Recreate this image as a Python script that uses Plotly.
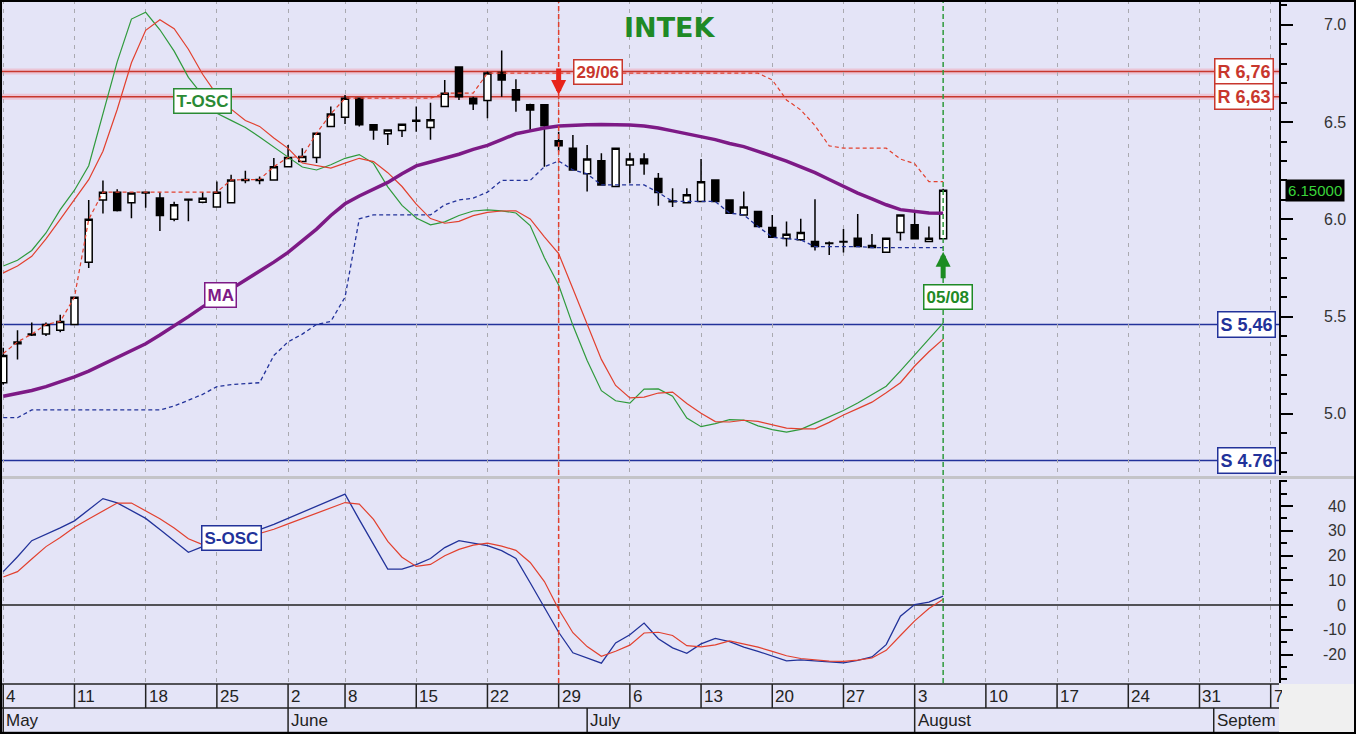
# -*- coding: utf-8 -*-
import pandas as pd
import plotly.graph_objects as go

# --- 1. chart data ---
# trading days 4 May - 5 Aug 2009, 1 June was a holiday
DAYS = [d.strftime("%Y-%m-%d") for d in pd.bdate_range("2009-05-04", "2009-08-05")
        if d.strftime("%Y-%m-%d") != "2009-06-01"]

OPEN = [5.16, 5.36, 5.405, 5.41, 5.43, 5.46, 5.78, 6.10, 6.14, 6.086,
        6.135, 6.11, 6.00, 6.10, 6.088, 6.063, 6.086, 6.20, 6.205, 6.203,
        6.271, 6.297, 6.318, 6.477, 6.525, 6.623, 6.486, 6.44, 6.457, 6.505,
        6.472, 6.58, 6.783, 6.623, 6.611, 6.755, 6.666, 6.589, 6.589, 6.404,
        6.366, 6.234, 6.302, 6.169, 6.28, 6.31, 6.21, 6.09, 6.086, 6.092,
        6.203, 6.10, 6.023, 6.04, 5.958, 5.901, 5.895, 5.886, 5.878, 5.884,
        5.903, 5.865, 5.831, 5.932, 5.972, 5.886, 5.90]
HIGH = [5.34, 5.43, 5.47, 5.47, 5.51, 5.60, 6.10, 6.20, 6.155, 6.14,
        6.14, 6.14, 6.09, 6.105, 6.14, 6.195, 6.23, 6.25, 6.22, 6.315,
        6.383, 6.366, 6.445, 6.58, 6.64, 6.625, 6.487, 6.46, 6.49, 6.58,
        6.60, 6.717, 6.785, 6.63, 6.76, 6.868, 6.72, 6.595, 6.59, 6.45,
        6.434, 6.383, 6.34, 6.366, 6.343, 6.34, 6.238, 6.16, 6.16, 6.31,
        6.205, 6.10, 6.143, 6.04, 6.023, 5.989, 6.003, 6.104, 5.886, 5.95,
        6.027, 5.925, 5.905, 6.025, 6.04, 5.963, 6.157]
LOW = [5.15, 5.28, 5.40, 5.40, 5.42, 5.455, 5.75, 6.03, 6.04, 6.006,
       6.06, 5.94, 5.99, 5.99, 6.083, 6.063, 6.083, 6.186, 6.18, 6.20,
       6.27, 6.295, 6.29, 6.475, 6.49, 6.477, 6.41, 6.383, 6.423, 6.45,
       6.41, 6.578, 6.614, 6.563, 6.52, 6.631, 6.554, 6.46, 6.271, 6.35,
       6.25, 6.143, 6.175, 6.168, 6.186, 6.229, 6.07, 6.063, 6.083, 6.09,
       6.09, 6.03, 6.02, 5.96, 5.905, 5.86, 5.89, 5.84, 5.817, 5.83,
       5.858, 5.855, 5.83, 5.891, 5.898, 5.885, 5.90]
CLOSE = [5.30, 5.37, 5.41, 5.46, 5.475, 5.60, 6.00, 6.14, 6.045, 6.135,
         6.14, 6.02, 6.075, 6.104, 6.109, 6.14, 6.203, 6.205, 6.20, 6.271,
         6.318, 6.323, 6.443, 6.542, 6.623, 6.486, 6.46, 6.46, 6.489, 6.51,
         6.512, 6.649, 6.631, 6.594, 6.752, 6.717, 6.614, 6.563, 6.482, 6.378,
         6.254, 6.31, 6.177, 6.366, 6.31, 6.286, 6.138, 6.095, 6.126, 6.194,
         6.092, 6.032, 6.063, 5.963, 5.908, 5.924, 5.932, 5.86, 5.876, 5.886,
         5.86, 5.855, 5.903, 6.023, 5.90, 5.903, 6.15]

MA = [5.09, 5.105, 5.12, 5.14, 5.165, 5.19, 5.22, 5.255, 5.29, 5.325,
      5.36, 5.405, 5.45, 5.50, 5.55, 5.595, 5.64, 5.69, 5.735, 5.78,
      5.83, 5.89, 5.95, 6.02, 6.08, 6.12, 6.155, 6.19, 6.235, 6.275,
      6.295, 6.315, 6.335, 6.36, 6.38, 6.41, 6.44, 6.455, 6.47, 6.48,
      6.485, 6.487, 6.488, 6.487, 6.485, 6.48, 6.47, 6.455, 6.44, 6.426,
      6.41, 6.39, 6.374, 6.35, 6.326, 6.30, 6.27, 6.24, 6.205, 6.17,
      6.135, 6.105, 6.075, 6.05, 6.04, 6.033, 6.032]

# channel lines (red dashed above, blue dashed below)
UPPER_BAND = [5.31, 5.37, 5.41, 5.46, 5.475, 5.60, 6.00, 6.14, 6.14, 6.14,
              6.14, 6.14, 6.14, 6.14, 6.14, 6.14, 6.203, 6.205, 6.205, 6.271,
              6.318, 6.323, 6.443, 6.542, 6.623, 6.623, 6.623, 6.623, 6.623, 6.623,
              6.623, 6.649, 6.649, 6.649, 6.752, 6.752, 6.752, 6.752, 6.752, 6.752,
              6.752, 6.752, 6.752, 6.752, 6.752, 6.752, 6.752, 6.752, 6.752, 6.752,
              6.752, 6.752, 6.752, 6.752, 6.717, 6.614, 6.563, 6.482, 6.378, 6.366,
              6.366, 6.366, 6.366, 6.31, 6.286, 6.194, 6.194]
LOWER_BAND = [4.98, 4.98, 5.02, 5.02, 5.02, 5.02, 5.02, 5.02, 5.02, 5.02,
              5.02, 5.02, 5.04, 5.07, 5.10, 5.14, 5.15, 5.155, 5.16, 5.30,
              5.37, 5.41, 5.46, 5.475, 5.60, 6.003, 6.023, 6.023, 6.023, 6.023,
              6.023, 6.075, 6.10, 6.109, 6.14, 6.20, 6.20, 6.20, 6.271, 6.30,
              6.254, 6.234, 6.177, 6.177, 6.177, 6.177, 6.138, 6.092, 6.092, 6.092,
              6.092, 6.032, 6.023, 5.963, 5.908, 5.901, 5.895, 5.86, 5.86, 5.86,
              5.86, 5.855, 5.855, 5.855, 5.855, 5.855, 5.855]

# T-OSC, drawn on the price scale
TOSC_FAST = [5.76, 5.79, 5.84, 5.93, 6.05, 6.15, 6.276, 6.54, 6.81, 7.03,
             7.065, 6.975, 6.865, 6.73, 6.636, 6.545, 6.509, 6.472, 6.424, 6.37,
             6.32, 6.269, 6.254, 6.281, 6.314, 6.333, 6.288, 6.167, 6.072, 6.007,
             5.972, 5.987, 6.02, 6.043, 6.049, 6.044, 6.033, 5.968, 5.803, 5.662,
             5.455, 5.274, 5.119, 5.067, 5.055, 5.127, 5.128, 5.091, 4.978, 4.934,
             4.95, 4.97, 4.968, 4.938, 4.919, 4.906, 4.92, 4.952, 4.986, 5.017,
             5.056, 5.099, 5.142, 5.221, 5.303, 5.385, 5.466]
TOSC_SLOW = [5.725, 5.76, 5.81, 5.90, 6.00, 6.10, 6.204, 6.35, 6.565, 6.805,
             6.972, 7.026, 6.98, 6.875, 6.746, 6.64, 6.567, 6.508, 6.478, 6.418,
             6.365, 6.29, 6.278, 6.264, 6.289, 6.314, 6.297, 6.24, 6.169, 6.078,
             6.004, 5.98, 5.99, 6.019, 6.036, 6.043, 6.044, 6.002, 5.91, 5.824,
             5.643, 5.46, 5.28, 5.146, 5.082, 5.086, 5.107, 5.112, 5.053, 5.003,
             4.96, 4.958, 4.967, 4.961, 4.944, 4.927, 4.923, 4.923, 4.956, 4.994,
             5.027, 5.06, 5.108, 5.16, 5.246, 5.319, 5.384]

# S-OSC, lower panel
SOSC_FAST = [13.5, 19.5, 26, 28.5, 31.2, 34, 38.5, 43, 41.3, 38,
             35, 30.5, 26, 21.3, 23.6, 25.3, 27.1, 28.8, 30.5, 32.6,
             35, 37.5, 40, 42.4, 44.8, 34.5, 24.5, 14.5, 14.5, 16.3,
             18.8, 23.2, 26, 25.1, 24, 22, 18.8, 9.0, -1.3, -11,
             -19.3, -21.4, -23.5, -15.3, -12, -7.3, -13.6, -17.3, -19.5, -15.7,
             -13.5, -14.8, -17, -18.7, -20.5, -22.6, -22.2, -22.6, -23, -23.4,
             -22.4, -21, -16, -4.5, 0.2, 1.2, 3.6]
SOSC_SLOW = [11.3, 13.5, 18.6, 23.6, 27.3, 31.4, 34.8, 38.0, 41.2, 41.2,
             38.1, 34.9, 31.1, 26.8, 24.4, 23.8, 25.5, 27.3, 29.1, 30.6,
             32.8, 34.9, 37.0, 39.2, 41.4, 40.8, 34.6, 25.7, 19.3, 15.6,
             16.4, 19.9, 22.5, 24.2, 25.0, 23.8, 22.1, 17.2, 9.5, -1.7,
             -11.2, -16.8, -20.7, -18.7, -16.2, -11.3, -11.0, -12.3, -16.4, -16.9,
             -16.1, -14.5, -15.8, -17.0, -18.7, -20.5, -21.6, -22.3, -22.7, -22.8,
             -22.3, -21.4, -18.3, -12.3, -6.4, -1.4, 2.3]

TITLE = "INTEK"
RESISTANCE = [6.76, 6.63]
RESISTANCE_TEXT = ["R 6,76", "R 6,63"]
SUPPORT = [5.46, 4.76]
SUPPORT_TEXT = ["S 5,46", "S 4.76"]
SELL_DAY, SELL_TEXT, SELL_PRICE = "2009-06-29", "29/06", 6.64
BUY_DAY, BUY_TEXT, BUY_PRICE = "2009-08-05", "05/08", 5.833

WEEK_DAYS = ["2009-05-04", "2009-05-11", "2009-05-18", "2009-05-25", "2009-06-02",
             "2009-06-08", "2009-06-15", "2009-06-22", "2009-06-29", "2009-07-06",
             "2009-07-13", "2009-07-20", "2009-07-27", "2009-08-03", "2009-08-10",
             "2009-08-17", "2009-08-24", "2009-08-31", "2009-09-07"]
WEEK_TEXT = ["4", "11", "18", "25", "2", "8", "15", "22", "29", "6",
             "13", "20", "27", "3", "10", "17", "24", "31", "7"]
MONTH_DAYS = ["2009-05-04", "2009-06-02", "2009-07-01", "2009-08-03", "2009-09-01"]
MONTH_TEXT = ["May", "June", "July", "August", "September"]
PRICE_TICKS = [5.0, 5.5, 6.0, 6.5, 7.0]
OSC_TICKS = [-20, -10, 0, 10, 20, 30, 40]

# -------------------------
FONT = "Arial"
BG = "#E4E4F7"
GREEN = "#2f9a3c"
RED = "#e2402e"
LEVEL_RED = "#c8372d"
NAVY = "#22329a"
PURPLE = "#7d1a86"

X_RANGE = ["2009-05-01 18:30", "2009-09-07 14:00"]
TOP_DOMAIN = [0.353, 1.0]
LOW_DOMAIN = [0.0695, 0.346]
STRIP_TOP, STRIP_MID, STRIP_BOT = 0.0681, 0.0354, 0.002
RIGHT_EDGE = 1356 / 1279  # paper x of the figure's right edge


def box_label(text, x, y, color, xref="x", yref="y", xanchor="center", xshift=0, size=17):
    return dict(text="<b>%s</b>" % text, x=x, y=y, xref=xref, yref=yref, xanchor=xanchor,
                xshift=xshift, showarrow=False, bgcolor="white", bordercolor=color,
                borderwidth=1.5, borderpad=2,
                font=dict(family=FONT, size=size, color=color))


def main():
    print("points:", len(DAYS), len(OPEN), len(MA), len(TOSC_FAST), len(SOSC_FAST))

    fig = go.Figure()

    # top panel: T-OSC, MA, candles, channel
    fig.add_trace(go.Scatter(x=DAYS, y=TOSC_FAST, mode="lines",
                             line=dict(color=GREEN, width=1.2)))
    fig.add_trace(go.Scatter(x=DAYS, y=TOSC_SLOW, mode="lines",
                             line=dict(color=RED, width=1.2)))
    fig.add_trace(go.Scatter(x=DAYS, y=MA, mode="lines",
                             line=dict(color=PURPLE, width=3.5)))
    fig.add_trace(go.Candlestick(
        x=DAYS, open=OPEN, high=HIGH, low=LOW, close=CLOSE, whiskerwidth=0,
        increasing=dict(fillcolor="white", line=dict(color="black", width=1.5)),
        decreasing=dict(fillcolor="black", line=dict(color="black", width=1.5))))
    fig.add_trace(go.Scatter(x=DAYS, y=UPPER_BAND, mode="lines",
                             line=dict(color=RED, width=1.2, dash="4px,3px")))
    fig.add_trace(go.Scatter(x=DAYS, y=LOWER_BAND, mode="lines",
                             line=dict(color=NAVY, width=1.3, dash="4px,3px")))

    # lower panel: S-OSC
    fig.add_trace(go.Scatter(x=DAYS, y=SOSC_FAST, mode="lines", xaxis="x2", yaxis="y2",
                             line=dict(color=NAVY, width=1.3)))
    fig.add_trace(go.Scatter(x=DAYS, y=SOSC_SLOW, mode="lines", xaxis="x2", yaxis="y2",
                             line=dict(color=RED, width=1.2)))

    shapes = []
    annotations = []

    # resistance / support levels
    for level, text in zip(RESISTANCE, RESISTANCE_TEXT):
        shapes.append(dict(type="line", xref="paper", yref="y", x0=0, x1=1, y0=level, y1=level,
                           layer="below", line=dict(color="rgba(255,120,130,0.28)", width=6)))
        shapes.append(dict(type="line", xref="paper", yref="y", x0=0, x1=1, y0=level, y1=level,
                           layer="below", line=dict(color=LEVEL_RED, width=1.5)))
        annotations.append(box_label(text, 1, level, LEVEL_RED, xref="paper",
                                     xanchor="right", xshift=-5, size=18))
    for level, text in zip(SUPPORT, SUPPORT_TEXT):
        shapes.append(dict(type="line", xref="paper", yref="y", x0=0, x1=1, y0=level, y1=level,
                           layer="below", line=dict(color=NAVY, width=1.5)))
        annotations.append(box_label(text, 1, level, NAVY, xref="paper",
                                     xanchor="right", xshift=-3, size=18))

    # zero line of the oscillator
    shapes.append(dict(type="line", xref="paper", yref="y2", x0=0, x1=1, y0=0, y1=0,
                       layer="below", line=dict(color="#202020", width=1.5)))

    # signal days
    shapes.append(dict(type="line", xref="x", yref="paper", x0=SELL_DAY, x1=SELL_DAY,
                       y0=LOW_DOMAIN[0], y1=1, line=dict(color=RED, width=1.5, dash="5px,3px")))
    shapes.append(dict(type="line", xref="x", yref="paper", x0=BUY_DAY, x1=BUY_DAY,
                       y0=LOW_DOMAIN[0], y1=1, line=dict(color=GREEN, width=1.5, dash="5px,3px")))
    annotations.append(dict(x=SELL_DAY, y=SELL_PRICE, xref="x", yref="y", text="",
                            showarrow=True, ax=0, ay=-28, arrowhead=2, arrowsize=0.6,
                            arrowwidth=5, arrowcolor="#e8231a"))
    annotations.append(dict(x=BUY_DAY, y=BUY_PRICE, xref="x", yref="y", text="",
                            showarrow=True, ax=0, ay=28, arrowhead=2, arrowsize=0.6,
                            arrowwidth=5, arrowcolor="#1c8c22"))
    annotations.append(box_label(SELL_TEXT, SELL_DAY, RESISTANCE[0], LEVEL_RED,
                                 xanchor="left", xshift=14))
    annotations.append(box_label(BUY_TEXT, BUY_DAY, 5.60, "#1f8a26", xshift=5))

    # series name tags
    annotations.append(box_label("T-OSC", "2009-05-22", 6.61, "#2a8a34"))
    annotations.append(box_label("MA", "2009-05-25", 5.61, PURPLE, xshift=4))
    annotations.append(box_label("S-OSC", "2009-05-26", 27, NAVY, xref="x2", yref="y2"))

    # title
    annotations.append(dict(text="<b>%s</b>" % TITLE, xref="paper", yref="paper", x=0.524,
                            y=1 - 27 / 734, yanchor="middle", showarrow=False,
                            font=dict(family="DejaVu Sans", size=27, color="#1f8a26")))

    # right axis labels, right aligned
    for v in PRICE_TICKS:
        annotations.append(dict(text="%.1f" % v, xref="paper", yref="y", x=1348 / 1279, y=v,
                                xanchor="right", yanchor="middle", showarrow=False,
                                font=dict(family=FONT, size=16, color="#333333")))
    for v in OSC_TICKS:
        annotations.append(dict(text=str(v), xref="paper", yref="y2", x=1348 / 1279, y=v,
                                xanchor="right", yanchor="middle", showarrow=False,
                                font=dict(family=FONT, size=16, color="#333333")))
    annotations.append(dict(text="%.5f" % CLOSE[-1], xref="paper", yref="y", x=1285 / 1279,
                            y=CLOSE[-1], xanchor="left", yanchor="middle", showarrow=False,
                            bgcolor="black", borderpad=2,
                            font=dict(family=FONT, size=15, color="#3ad43a")))

    # date strip: day row and month row
    for y in (STRIP_TOP, STRIP_MID, STRIP_BOT):
        shapes.append(dict(type="line", xref="paper", yref="paper", x0=0, x1=1, y0=y, y1=y,
                           line=dict(color="#222222", width=1.5)))
    for d, text in zip(WEEK_DAYS, WEEK_TEXT):
        shapes.append(dict(type="line", xref="x2", yref="paper", x0=d, x1=d,
                           y0=STRIP_MID, y1=STRIP_TOP, line=dict(color="#222222", width=1.5)))
        ann = dict(text=text, x=d, y=(STRIP_TOP + STRIP_MID) / 2, xref="x2", yref="paper",
                   xanchor="left", yanchor="middle", xshift=1, showarrow=False, align="left",
                   font=dict(family=FONT, size=17, color="#222222"))
        if d == WEEK_DAYS[-1]:
            ann["width"] = 8
        annotations.append(ann)
    for d, text in zip(MONTH_DAYS, MONTH_TEXT):
        shapes.append(dict(type="line", xref="x2", yref="paper", x0=d, x1=d,
                           y0=STRIP_BOT, y1=STRIP_MID, line=dict(color="#222222", width=1.5)))
        ann = dict(text=text, x=d, y=(STRIP_MID + STRIP_BOT) / 2, xref="x2", yref="paper",
                   xanchor="left", yanchor="middle", xshift=1, showarrow=False, align="left",
                   font=dict(family=FONT, size=17, color="#222222"))
        if d == MONTH_DAYS[-1]:
            ann["width"] = 58
        annotations.append(ann)

    # panel separator, grey corner, outer frame
    shapes.append(dict(type="line", xref="paper", yref="paper", x0=0, x1=RIGHT_EDGE,
                       y0=1 - 477.5 / 734, y1=1 - 477.5 / 734, line=dict(color="#c4c4c8", width=3)))
    shapes.append(dict(type="rect", xref="paper", yref="paper", x0=1, x1=RIGHT_EDGE,
                       y0=0, y1=STRIP_TOP, fillcolor="#f0f0f0", line=dict(width=0)))
    shapes.append(dict(type="rect", xref="paper", yref="paper", x0=0.0008, x1=1355 / 1279,
                       y0=1 / 734, y1=1 - 1 / 734, line=dict(color="black", width=2)))

    xaxis_common = dict(
        type="date", range=X_RANGE,
        rangebreaks=[dict(bounds=["sat", "mon"]), dict(values=["2009-06-01"])],
        tickmode="array", tickvals=WEEK_DAYS, showticklabels=False, ticks="",
        showgrid=True, gridcolor="#a9a9b0", gridwidth=1, griddash="4px,5px",
        zeroline=False, showline=False, fixedrange=True)

    yaxis_common = dict(
        side="right", showgrid=False, zeroline=False, showline=True,
        linecolor="black", linewidth=1.5, tickmode="array", ticks="outside",
        ticklen=12, tickwidth=1.5, tickcolor="black", showticklabels=False, fixedrange=True)

    fig.update_layout(
        width=1356, height=734, autosize=False,
        margin=dict(l=0, r=77, t=0, b=0),
        paper_bgcolor=BG, plot_bgcolor=BG,
        showlegend=False,
        xaxis=dict(xaxis_common, domain=[0, 1], anchor="y", rangeslider=dict(visible=False)),
        xaxis2=dict(xaxis_common, domain=[0, 1], anchor="y2", matches="x"),
        yaxis=dict(yaxis_common, domain=TOP_DOMAIN, anchor="x", range=[4.686, 7.128],
                   tickvals=PRICE_TICKS,
                   minor=dict(tickmode="linear", tick0=0, dtick=0.1, ticks="outside",
                              ticklen=6, tickwidth=1.5, tickcolor="black", showgrid=False)),
        yaxis2=dict(yaxis_common, domain=LOW_DOMAIN, anchor="x2", range=[-31.5, 50.5],
                    tickvals=OSC_TICKS,
                    minor=dict(tickmode="linear", tick0=0, dtick=5, ticks="outside",
                               ticklen=6, tickwidth=1.5, tickcolor="black", showgrid=False)),
        shapes=shapes,
        annotations=annotations,
    )

    fig.write_html("out.html", config={"displayModeBar": False},
                   post_script="document.body.style.margin='0';")
    print("done")


if __name__ == '__main__':
    main()
